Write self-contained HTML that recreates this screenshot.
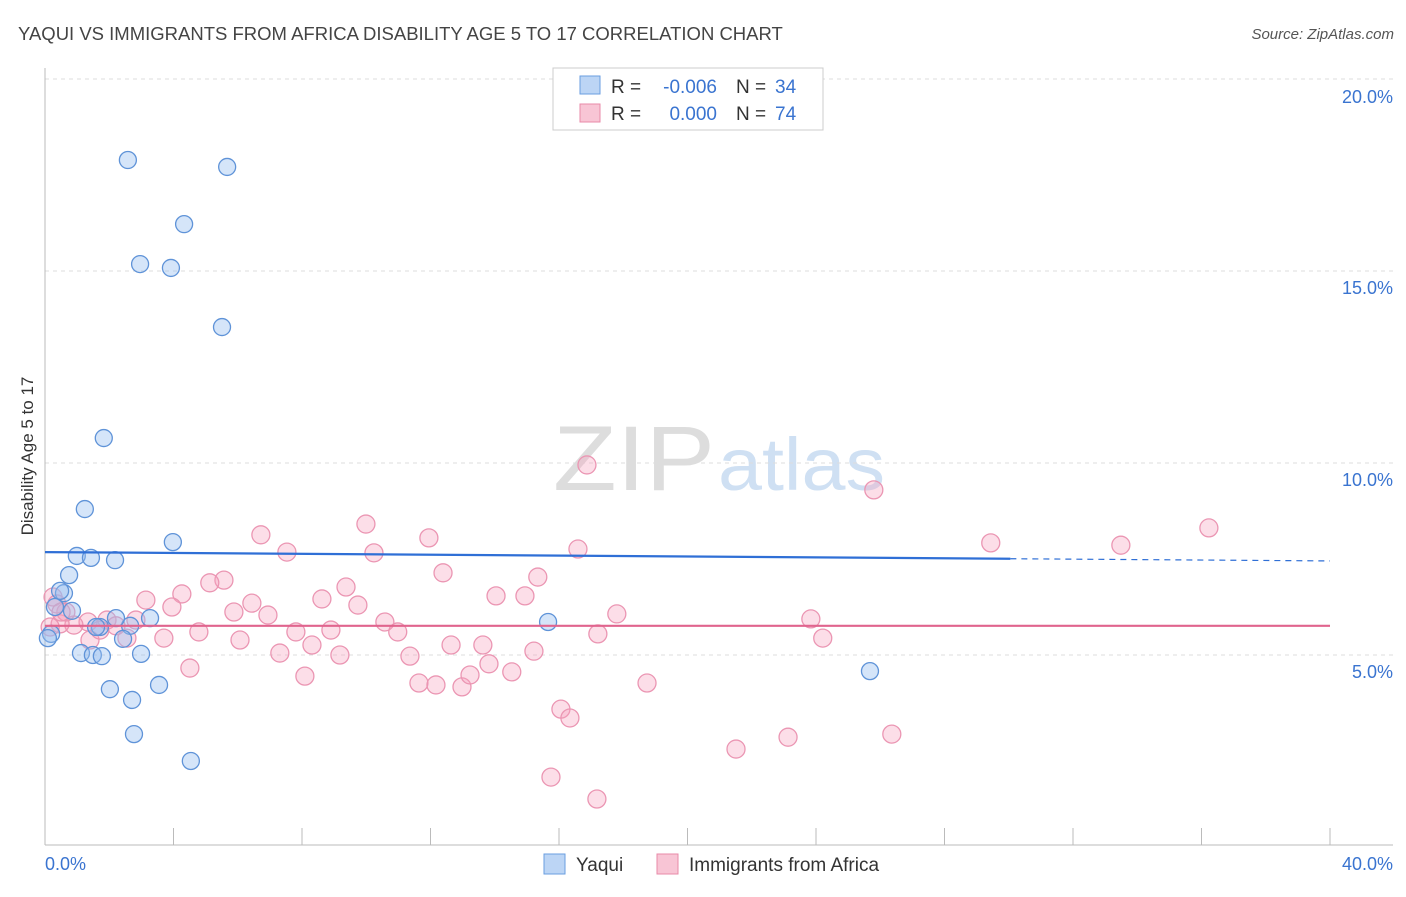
<!DOCTYPE html>
<html><head><meta charset="utf-8">
<style>
body{margin:0;background:#fff;font-family:"Liberation Sans",sans-serif;}
svg text{font-family:"Liberation Sans",sans-serif;}
</style></head>
<body>
<svg id="chart" width="1406" height="892">
<text x="18" y="40" font-size="18.5" fill="#444">YAQUI VS IMMIGRANTS FROM AFRICA DISABILITY AGE 5 TO 17 CORRELATION CHART</text>
<text x="1394" y="39" font-size="15" fill="#555" text-anchor="end" font-style="italic">Source: ZipAtlas.com</text>
<text x="553" y="490" font-size="92" fill="#ddd" font-family="Liberation Serif" textLength="162" lengthAdjust="spacingAndGlyphs">ZIP</text>
<text x="718" y="490" font-size="74" fill="#cfe0f3" textLength="167" lengthAdjust="spacingAndGlyphs">atlas</text>
<text transform="translate(33,456) rotate(-90)" font-size="17" fill="#333" text-anchor="middle">Disability Age 5 to 17</text>
<g id="grid"></g>
<g id="axes"></g>
<g id="pts"></g>
<g id="lines"></g>
<g>
<rect x="553" y="68" width="270" height="62" fill="#fff" stroke="#ccc"/>
<rect x="580" y="76" width="20" height="18" fill="#bcd5f5" stroke="#6a9ee0"/>
<text x="611" y="93" font-size="19" fill="#333">R =</text>
<text x="717" y="93" font-size="19" fill="#3a74d0" text-anchor="end">-0.006</text>
<text x="736" y="93" font-size="19" fill="#333">N =</text>
<text x="775" y="93" font-size="19" fill="#3a74d0">34</text>
<rect x="580" y="104" width="20" height="18" fill="#f8c5d5" stroke="#e88aa8"/>
<text x="611" y="120" font-size="19" fill="#333">R =</text>
<text x="717" y="120" font-size="19" fill="#3a74d0" text-anchor="end">0.000</text>
<text x="736" y="120" font-size="19" fill="#333">N =</text>
<text x="775" y="120" font-size="19" fill="#3a74d0">74</text>
</g>
<g>
<rect x="544" y="854" width="21" height="20" fill="#bcd5f5" stroke="#6a9ee0"/>
<text x="576" y="871" font-size="19" fill="#333">Yaqui</text>
<rect x="657" y="854" width="21" height="20" fill="#f8c5d5" stroke="#e88aa8"/>
<text x="689" y="871" font-size="19" fill="#333">Immigrants from Africa</text>
</g>
</svg>
<script>
const yTicks=[5,10,15,20];
const yTickLabels=["5.0%","10.0%","15.0%","20.0%"];
const xTickLabels=["0.0%","40.0%"];
const yaquiX=[2.58,5.67,4.33,2.96,3.92,5.51,1.83,1.24,3.98,0.99,1.43,2.18,0.75,0.59,0.47,0.84,0.31,3.27,2.65,1.71,1.59,2.21,2.43,0.19,0.09,1.12,1.49,1.77,2.99,2.02,3.55,2.71,2.77,4.54,15.66,25.68];
const yaquiY=[17.89,17.71,16.22,15.18,15.08,13.54,10.65,8.80,7.94,7.58,7.53,7.47,7.08,6.61,6.67,6.15,6.25,5.96,5.76,5.73,5.73,5.96,5.42,5.55,5.44,5.05,5.00,4.97,5.03,4.11,4.22,3.83,2.94,2.24,5.86,4.58];
const africaX=[6.72,9.99,11.95,10.24,7.53,16.87,25.80,16.59,15.34,12.39,9.37,5.57,5.13,4.26,3.14,3.95,6.44,5.88,6.94,9.74,8.62,14.04,14.94,17.80,10.58,10.98,7.81,8.90,4.79,6.07,3.70,2.55,1.93,1.34,0.90,0.47,0.65,0.25,0.37,1.40,1.71,2.83,2.21,0.16,0.50,7.31,9.18,11.36,12.64,13.63,15.22,13.82,8.31,4.51,8.09,11.64,12.17,12.98,13.23,14.53,17.21,23.84,24.21,18.74,16.06,16.34,21.51,23.13,26.36,15.75,17.18,29.44,33.49,36.23];
const africaY=[8.13,8.41,8.05,7.66,7.68,9.95,9.30,7.76,7.03,7.14,6.77,6.95,6.88,6.59,6.43,6.25,6.35,6.12,6.04,6.30,6.46,6.54,6.54,6.07,5.86,5.60,5.60,5.65,5.60,5.39,5.44,5.44,5.91,5.86,5.78,5.81,6.12,6.51,6.33,5.39,5.65,5.91,5.76,5.73,6.12,5.05,5.00,4.97,5.26,5.26,5.10,4.77,5.26,4.66,4.45,4.27,4.22,4.17,4.48,4.56,5.55,5.94,5.44,4.27,3.59,3.36,2.55,2.86,2.94,1.82,1.25,7.92,7.86,8.31];
const yaquiTrend=[7.68,7.45];
const africaTrend=[5.76,5.76];
const X=v=>45+v/40*1285, Y=v=>847-v*38.4;
const NS="http://www.w3.org/2000/svg";
function mk(tag,attrs,parent){const e=document.createElementNS(NS,tag);for(const k in attrs)e.setAttribute(k,attrs[k]);document.getElementById(parent).appendChild(e);return e;}
yTicks.forEach((t,i)=>{
 const l=mk('line',{x1:45,x2:1393,y1:Y(t),y2:Y(t),stroke:'#ddd','stroke-dasharray':'4,4'},'grid');
 
 
 const tx=mk('text',{x:1393,y:Y(t)+(t===20?24:23),'font-size':18,fill:'#3a74d0','text-anchor':'end'},'axes');
 tx.textContent=yTickLabels[i];
 
 
});
const ax=mk('line',{x1:45,x2:45,y1:68,y2:845,stroke:'#bbb'},'axes');


const bx=mk('line',{x1:45,x2:1393,y1:845,y2:845,stroke:'#bbb'},'axes');


for(let i=0;i<=10;i++){const t=mk('line',{x1:X(i*4),x2:X(i*4),y1:828,y2:845,stroke:'#bbb'},'axes');
 
 }
[[0,'start',45],[1,'end',1393]].forEach(([i,a,x])=>{const t=mk('text',{x:x,y:870,'font-size':18,fill:'#3a74d0','text-anchor':a},'axes');t.textContent=xTickLabels[i];
 
 });
africaX.forEach((v,i)=>{const c=mk('circle',{cx:X(v),cy:Y(africaY[i]),r:9,fill:'rgba(245,160,190,0.35)',stroke:'#eb96b3','stroke-width':1.3},'pts');
 
 });
yaquiX.forEach((v,i)=>{const c=mk('circle',{cx:X(v),cy:Y(yaquiY[i]),r:8.5,fill:'rgba(150,190,240,0.4)',stroke:'#5f93d8','stroke-width':1.3},'pts');
 
 });
const s=(yaquiTrend[1]-yaquiTrend[0])/40, xm=30.05;
const l1=mk('line',{x1:X(0),y1:Y(yaquiTrend[0]),x2:X(xm),y2:Y(yaquiTrend[0]+s*xm),stroke:'#2f6fd6','stroke-width':2.2},'lines');


const l2=mk('line',{x1:X(xm),y1:Y(yaquiTrend[0]+s*xm),x2:X(40),y2:Y(yaquiTrend[1]),stroke:'#2f6fd6','stroke-width':1.2,'stroke-dasharray':'6,5'},'lines');


const l3=mk('line',{x1:X(0),y1:Y(africaTrend[0]),x2:X(40),y2:Y(africaTrend[1]),stroke:'#e0648e','stroke-width':2.2},'lines');


</script>
</body></html>
